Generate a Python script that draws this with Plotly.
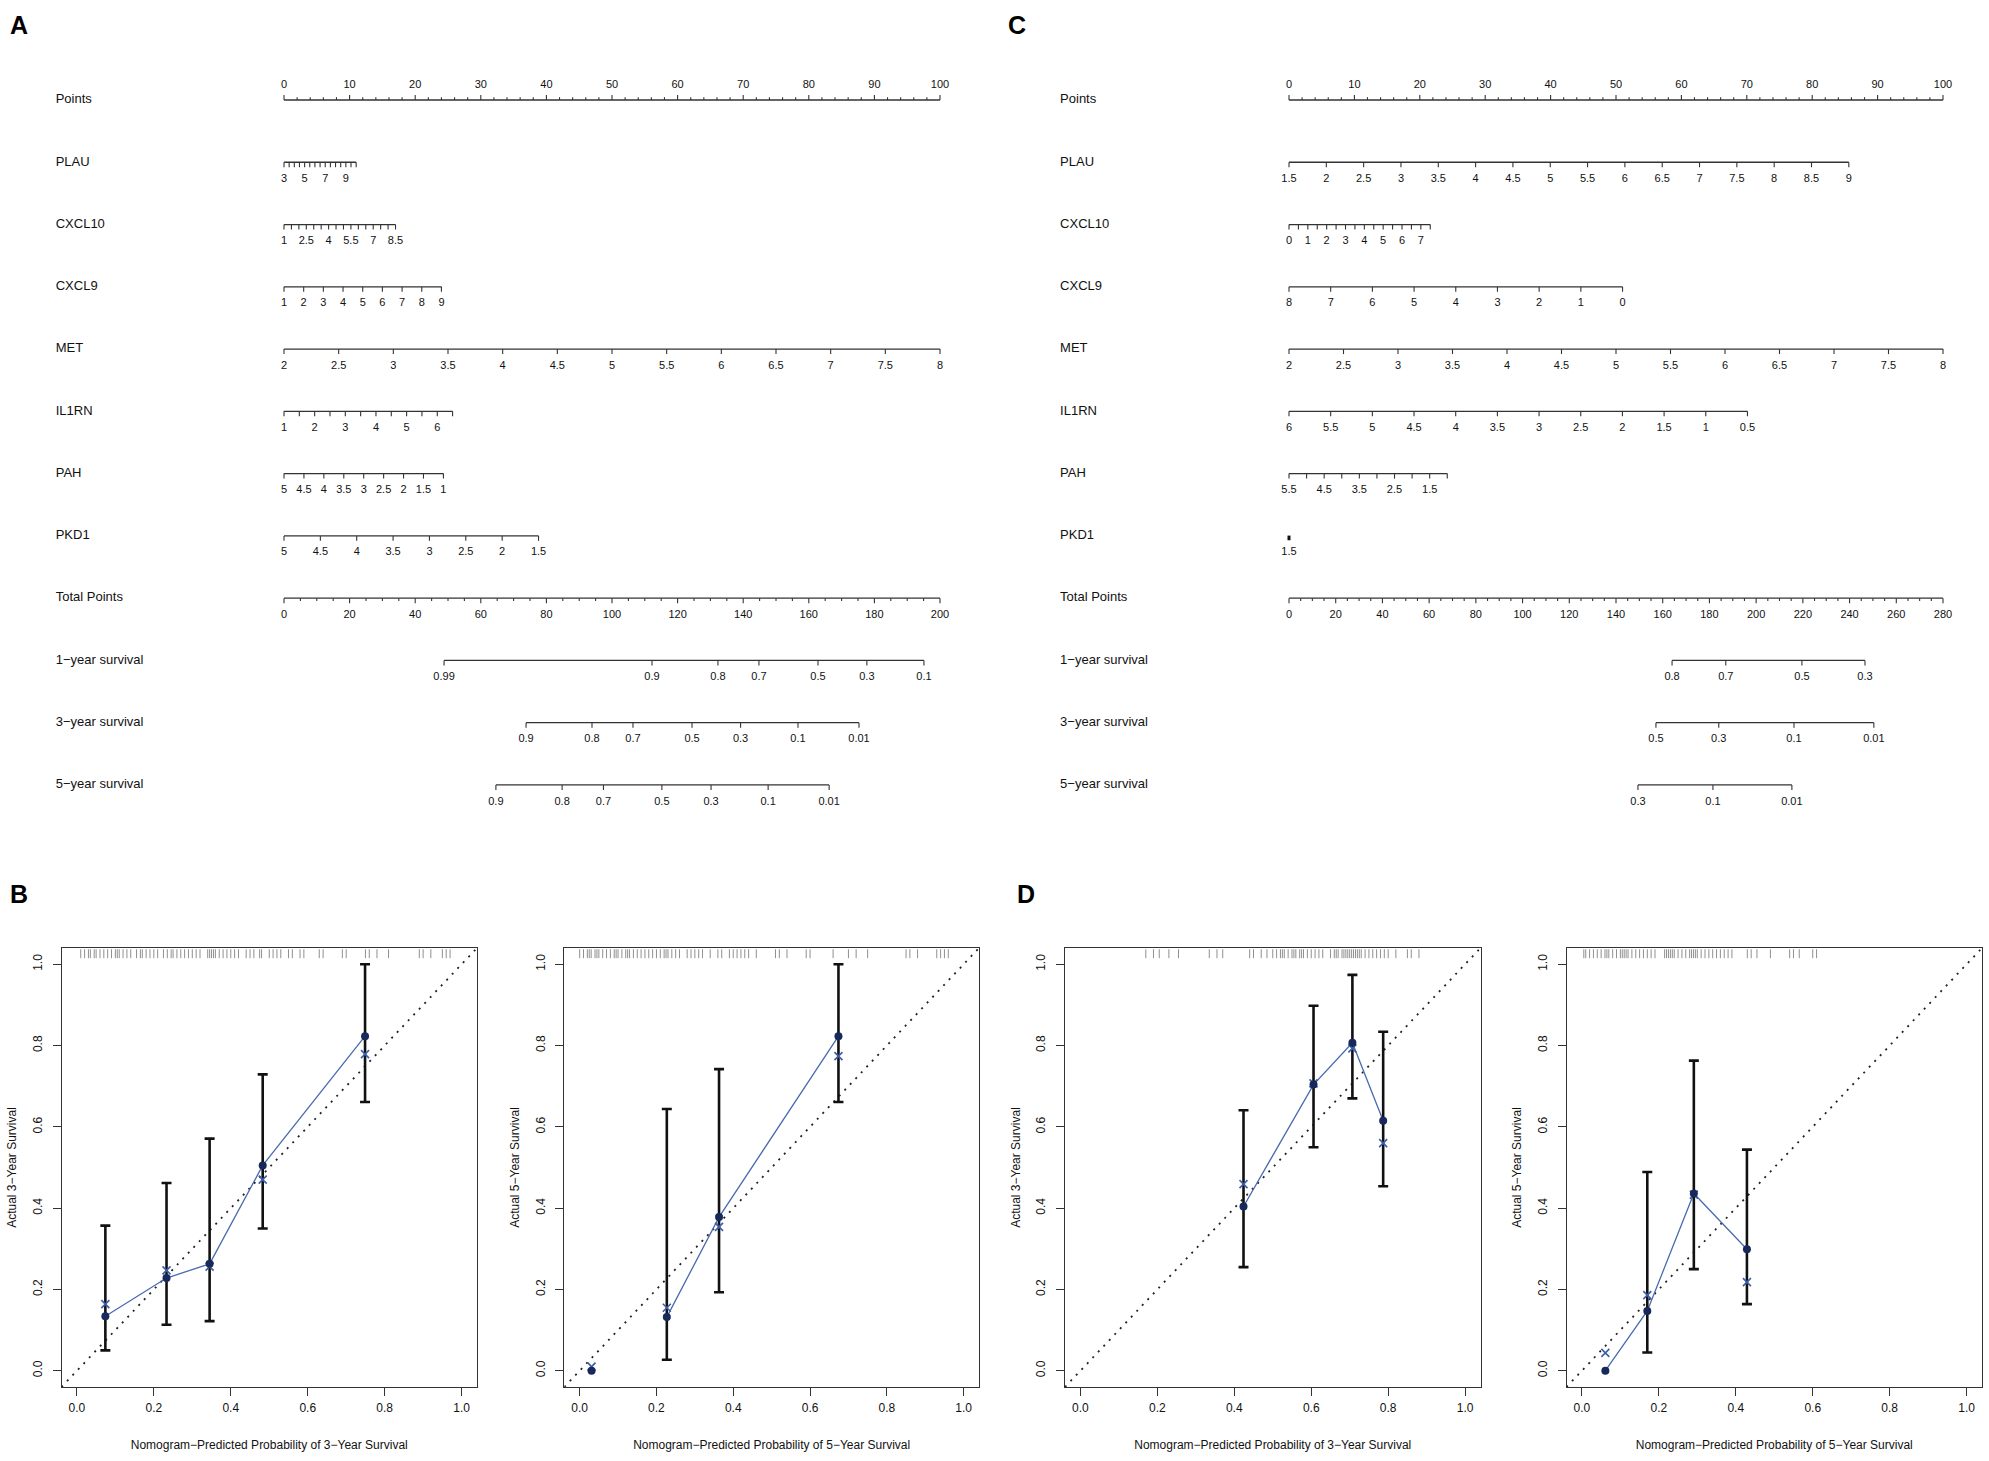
import plotly.graph_objects as go

W, H = 1989, 1461
M = "\u2212"  # R draws hyphens as minus signs

# ---------------- Nomogram A (training cohort) ----------------
a_vars = ["PLAU", "CXCL10", "CXCL9", "MET", "IL1RN", "PAH", "PKD1"]
a_start = [3, 1, 1, 2, 1, 5, 5]            # value at 0 points
a_end = [10, 8.5, 9, 8, 6.5, 1, 1.5]       # value at right end of the scale
a_end_pts = [11.0, 17.0, 24.0, 100.0, 25.7, 24.3, 38.8]
a_step = [0.5, 0.5, 1, 0.5, 0.5, 0.5, 0.5]
a_labels = [
    [3, 5, 7, 9],
    [1, 2.5, 4, 5.5, 7, 8.5],
    [1, 2, 3, 4, 5, 6, 7, 8, 9],
    [2, 2.5, 3, 3.5, 4, 4.5, 5, 5.5, 6, 6.5, 7, 7.5, 8],
    [1, 2, 3, 4, 5, 6],
    [5, 4.5, 4, 3.5, 3, 2.5, 2, 1.5, 1],
    [5, 4.5, 4, 3.5, 3, 2.5, 2, 1.5],
]
a_total_max = 200
a_surv_vals = [
    [0.99, 0.9, 0.8, 0.7, 0.5, 0.3, 0.1],
    [0.9, 0.8, 0.7, 0.5, 0.3, 0.1, 0.01],
    [0.9, 0.8, 0.7, 0.5, 0.3, 0.1, 0.01],
]
a_surv_total = [
    [48.8, 112.2, 132.3, 144.8, 162.8, 177.7, 195.1],
    [73.8, 93.9, 106.4, 124.4, 139.2, 156.7, 175.3],
    [64.6, 84.8, 97.4, 115.2, 130.2, 147.6, 166.2],
]

# ---------------- Nomogram C (validation cohort) ----------------
c_vars = ["PLAU", "CXCL10", "CXCL9", "MET", "IL1RN", "PAH", "PKD1"]
c_start = [1.5, 0, 8, 2, 6, 5.5, 1.5]
c_end = [9, 7.5, 0, 8, 0.5, 1, 1.5]
c_end_pts = [85.6, 21.6, 51.0, 100.0, 70.1, 24.2, 0.0]
c_step = [0.5, 0.5, 1, 0.5, 0.5, 0.5, 0.5]
c_labels = [
    [1.5, 2, 2.5, 3, 3.5, 4, 4.5, 5, 5.5, 6, 6.5, 7, 7.5, 8, 8.5, 9],
    [0, 1, 2, 3, 4, 5, 6, 7],
    [8, 7, 6, 5, 4, 3, 2, 1, 0],
    [2, 2.5, 3, 3.5, 4, 4.5, 5, 5.5, 6, 6.5, 7, 7.5, 8],
    [6, 5.5, 5, 4.5, 4, 3.5, 3, 2.5, 2, 1.5, 1, 0.5],
    [5.5, 4.5, 3.5, 2.5, 1.5],
    [1.5],
]
c_total_max = 280
c_surv_vals = [
    [0.8, 0.7, 0.5, 0.3],
    [0.5, 0.3, 0.1, 0.01],
    [0.3, 0.1, 0.01],
]
c_surv_total = [
    [164.0, 187.0, 219.6, 246.6],
    [157.1, 184.0, 216.2, 250.4],
    [149.4, 181.5, 215.3],
]

surv_names = ["1" + M + "year survival", "3" + M + "year survival", "5" + M + "year survival"]

# ---------------- Calibration curves ----------------
b3_pred = [0.074, 0.233, 0.345, 0.483, 0.749]
b3_obs = [0.134, 0.228, 0.263, 0.505, 0.823]
b3_corr = [0.164, 0.247, 0.256, 0.470, 0.779]
b3_low = [0.050, 0.113, 0.122, 0.350, 0.661]
b3_up = [0.357, 0.462, 0.571, 0.729, 1.000]
b3_rug = [0.01, 0.02, 0.03, 0.035, 0.045, 0.05, 0.06, 0.07, 0.08, 0.09, 0.10, 0.105,
          0.11, 0.12, 0.13, 0.14, 0.155, 0.165, 0.17, 0.18, 0.19, 0.2, 0.21, 0.225,
          0.235, 0.245, 0.25, 0.26, 0.27, 0.28, 0.29, 0.3, 0.31, 0.32, 0.34, 0.345,
          0.35, 0.355, 0.36, 0.37, 0.38, 0.39, 0.4, 0.41, 0.42, 0.44, 0.45, 0.46,
          0.475, 0.48, 0.5, 0.51, 0.52, 0.53, 0.55, 0.56, 0.58, 0.59, 0.63, 0.64,
          0.69, 0.70, 0.75, 0.76, 0.78, 0.81, 0.89, 0.9, 0.92, 0.95, 0.96, 0.97]

b5_pred = [0.031, 0.227, 0.363, 0.674]
b5_obs = [0.0, 0.132, 0.378, 0.823]
b5_corr = [0.010, 0.155, 0.354, 0.774]
b5_low = [None, 0.027, 0.193, 0.661]
b5_up = [None, 0.644, 0.742, 1.000]
b5_rug = [0.0, 0.01, 0.02, 0.025, 0.03, 0.04, 0.045, 0.05, 0.06, 0.07, 0.08, 0.09,
          0.095, 0.1, 0.11, 0.12, 0.125, 0.13, 0.14, 0.15, 0.16, 0.17, 0.18, 0.19,
          0.2, 0.21, 0.22, 0.225, 0.23, 0.24, 0.25, 0.26, 0.28, 0.29, 0.3, 0.31,
          0.32, 0.34, 0.36, 0.37, 0.39, 0.4, 0.41, 0.42, 0.43, 0.44, 0.46, 0.51,
          0.52, 0.54, 0.59, 0.6, 0.66, 0.70, 0.72, 0.75, 0.85, 0.86, 0.88, 0.93,
          0.94, 0.95, 0.96]

d3_pred = [0.424, 0.606, 0.707, 0.787]
d3_obs = [0.404, 0.704, 0.807, 0.615]
d3_corr = [0.459, 0.707, 0.793, 0.560]
d3_low = [0.255, 0.550, 0.670, 0.454]
d3_up = [0.641, 0.898, 0.974, 0.834]
d3_rug = [0.17, 0.19, 0.205, 0.23, 0.255, 0.335, 0.355, 0.37, 0.44, 0.45, 0.47,
          0.485, 0.5, 0.51, 0.52, 0.525, 0.53, 0.54, 0.55, 0.555, 0.56, 0.57, 0.575,
          0.58, 0.59, 0.6, 0.61, 0.62, 0.63, 0.65, 0.66, 0.665, 0.67, 0.68, 0.685,
          0.69, 0.695, 0.70, 0.705, 0.71, 0.715, 0.72, 0.725, 0.73, 0.74, 0.75,
          0.76, 0.77, 0.78, 0.79, 0.80, 0.82, 0.85, 0.86, 0.88]

d5_pred = [0.061, 0.170, 0.291, 0.429]
d5_obs = [0.0, 0.147, 0.436, 0.299]
d5_corr = [0.044, 0.186, 0.433, 0.218]
d5_low = [None, 0.045, 0.250, 0.164]
d5_up = [None, 0.489, 0.763, 0.544]
d5_rug = [0.005, 0.01, 0.02, 0.03, 0.04, 0.05, 0.06, 0.065, 0.07, 0.08, 0.09, 0.1,
          0.105, 0.11, 0.115, 0.12, 0.13, 0.14, 0.15, 0.16, 0.17, 0.18, 0.19, 0.215,
          0.22, 0.225, 0.23, 0.235, 0.24, 0.25, 0.26, 0.27, 0.28, 0.285, 0.29,
          0.295, 0.3, 0.31, 0.32, 0.33, 0.34, 0.35, 0.36, 0.37, 0.38, 0.39, 0.43,
          0.44, 0.455, 0.49, 0.54, 0.55, 0.565, 0.6, 0.61]

calib_ticks = [0, 0.2, 0.4, 0.6, 0.8, 1.0]
calib_ticktext = ["0.0", "0.2", "0.4", "0.6", "0.8", "1.0"]

# ---------------- styling ----------------
FONT = "Liberation Sans, Arial, Helvetica, sans-serif"
INK = "#333333"
ROW0, ROWH = 100.0, 62.27      # pixel y of first nomogram row, row spacing
TICK, MINOR = 0.08, 0.045      # tick lengths in row units
LAB_DN, LAB_UP = 0.27, 0.24
AX_RANGE = [-0.04, 1.04]
RUG_LO, RUG_HI = 1.015, 1.037


def ticks_between(v0, v1, step):
    n = int(round(abs(v1 - v0) / step))
    sgn = 1 if v1 >= v0 else -1
    return [v0 + sgn * step * k for k in range(n + 1)]


def to_pts(v, v0, v1, p1):
    if v1 == v0:
        return 0.0
    return (v - v0) / (v1 - v0) * p1


def seg(xs, ys, x0, x1, y0, y1):
    xs += [x0, x1, None]
    ys += [y0, y1, None]


def nomogram(xa, label_x, vars_, v_start, v_end, v_end_pts, v_step, v_labels,
             total_max, s_vals, s_total):
    rows = ["Points"] + vars_ + ["Total Points"] + surv_names
    lx, ly, tx, ty, bx, by = [], [], [], [], [], []
    kx, ky, kt = [], [], []

    seg(lx, ly, 0, 100, 0, 0)
    for p in range(0, 101, 2):
        seg(tx, ty, p, p, 0, -(TICK if p % 10 == 0 else MINOR))
    for p in range(0, 101, 10):
        kx.append(p); ky.append(-LAB_UP); kt.append(str(p))

    for j in range(len(vars_)):
        row = j + 1
        v0, v1, p1 = v_start[j], v_end[j], v_end_pts[j]
        if p1 == 0:
            seg(bx, by, 0, 0, row - 0.005, row + 0.07)
        else:
            seg(lx, ly, 0, p1, row, row)
            for v in ticks_between(v0, v1, v_step[j]):
                xp = to_pts(v, v0, v1, p1)
                seg(tx, ty, xp, xp, row, row + TICK)
        for v in v_labels[j]:
            kx.append(to_pts(v, v0, v1, p1)); ky.append(row + LAB_DN); kt.append(f"{v:g}")

    row = len(vars_) + 1
    sc = 100.0 / total_max
    seg(lx, ly, 0, 100, row, row)
    for t in range(0, total_max + 1, 5):
        seg(tx, ty, t * sc, t * sc, row, row + (TICK if t % 20 == 0 else MINOR))
    for t in range(0, total_max + 1, 20):
        kx.append(t * sc); ky.append(row + LAB_DN); kt.append(str(t))

    for s in range(len(s_vals)):
        row = len(vars_) + 2 + s
        xs = [t * sc for t in s_total[s]]
        seg(lx, ly, min(xs), max(xs), row, row)
        for xp, v in zip(xs, s_vals[s]):
            seg(tx, ty, xp, xp, row, row + TICK)
            kx.append(xp); ky.append(row + LAB_DN); kt.append(f"{v:g}")

    common = dict(xaxis=xa, yaxis="y", hoverinfo="skip", showlegend=False)
    return [
        go.Scatter(x=lx, y=ly, mode="lines", line=dict(color=INK, width=1.3), **common),
        go.Scatter(x=tx, y=ty, mode="lines", line=dict(color=INK, width=1.1), **common),
        go.Scatter(x=bx, y=by, mode="lines", line=dict(color="#111", width=3), **common),
        go.Scatter(x=kx, y=ky, mode="text", text=kt, textposition="middle center",
                   textfont=dict(family=FONT, size=11, color="#111"), **common),
        go.Scatter(x=[label_x] * len(rows), y=list(range(len(rows))), mode="text",
                   text=rows, textposition="middle right",
                   textfont=dict(family=FONT, size=13, color="#111"), **common),
    ]


def calibration(k, pred, obs, corr, low, up, rug, line_from):
    common = dict(xaxis=f"x{k}", yaxis=f"y{k}", hoverinfo="skip", showlegend=False)
    rx, ry = [], []
    for r in rug:
        seg(rx, ry, r, r, RUG_LO, RUG_HI)
    idx = [i for i in range(len(pred)) if low[i] is not None]
    return [
        go.Scatter(x=rx, y=ry, mode="lines", line=dict(color="rgba(70,70,70,0.6)", width=1), **common),
        go.Scatter(x=AX_RANGE, y=AX_RANGE, mode="lines",
                   line=dict(color="#222", width=1.8, dash="2px,6px"), **common),
        go.Scatter(x=pred[line_from:], y=obs[line_from:], mode="lines",
                   line=dict(color="#4A6BAE", width=1.3), **common),
        go.Scatter(x=[pred[i] for i in idx], y=[obs[i] for i in idx], mode="markers",
                   marker=dict(size=1, opacity=0),
                   error_y=dict(type="data", symmetric=False,
                                array=[up[i] - obs[i] for i in idx],
                                arrayminus=[obs[i] - low[i] for i in idx],
                                color="#111", thickness=2.6, width=5), **common),
        go.Scatter(x=pred, y=corr, mode="markers",
                   marker=dict(symbol="x-thin", size=8, line=dict(color="#3D5DA8", width=1.6)), **common),
        go.Scatter(x=pred, y=obs, mode="markers",
                   marker=dict(symbol="circle", size=8, color="#17295A"), **common),
    ]


fig = go.Figure()
for t in nomogram("x", -34.8, a_vars, a_start, a_end, a_end_pts, a_step, a_labels,
                  a_total_max, a_surv_vals, a_surv_total):
    fig.add_trace(t)
for t in nomogram("x2", -35.0, c_vars, c_start, c_end, c_end_pts, c_step, c_labels,
                  c_total_max, c_surv_vals, c_surv_total):
    fig.add_trace(t)

panels = [
    (3, b3_pred, b3_obs, b3_corr, b3_low, b3_up, b3_rug, 0, "3"),
    (4, b5_pred, b5_obs, b5_corr, b5_low, b5_up, b5_rug, 1, "5"),
    (5, d3_pred, d3_obs, d3_corr, d3_low, d3_up, d3_rug, 0, "3"),
    (6, d5_pred, d5_obs, d5_corr, d5_low, d5_up, d5_rug, 0, "5"),
]
for k, p, o, c, lo, up, rug, lf, yr in panels:
    for t in calibration(k, p, o, c, lo, up, rug, lf):
        fig.add_trace(t)

layout = dict(
    width=W, height=H, margin=dict(l=0, r=0, t=0, b=0, pad=0),
    paper_bgcolor="white", plot_bgcolor="white", showlegend=False,
    font=dict(family=FONT, color="#111"),
    xaxis=dict(domain=[0, 0.5], range=[-284 / 6.56, (994.5 - 284) / 6.56],
               visible=False, anchor="y"),
    xaxis2=dict(domain=[0.5, 1], range=[(994.5 - 1289) / 6.54, (W - 1289) / 6.54],
                visible=False, anchor="y"),
    yaxis=dict(domain=[0, 1], range=[(H - ROW0) / ROWH, -ROW0 / ROWH],
               visible=False, anchor="x"),
)

boxes = [(61.5, 477.0), (564.3, 979.0), (1065.0, 1480.5), (1566.5, 1982.0)]
box_top, box_bot = 948.0, 1387.0
axis_font = dict(family=FONT, size=12, color="#111")
for (k, *_rest), (x0, x1) in zip(panels, boxes):
    yr = _rest[-1]
    common = dict(range=AX_RANGE, tickvals=calib_ticks, ticktext=calib_ticktext,
                  ticks="outside", ticklen=8, tickwidth=1, tickcolor=INK,
                  showline=True, mirror=True, linecolor=INK, linewidth=1,
                  showgrid=False, zeroline=False, tickfont=axis_font)
    layout[f"xaxis{k}"] = dict(domain=[x0 / W, x1 / W], anchor=f"y{k}",
                               ticklabelstandoff=2,
                               title=dict(text=f"Nomogram{M}Predicted Probability of {yr}{M}Year Survival",
                                          font=axis_font, standoff=26),
                               **common)
    layout[f"yaxis{k}"] = dict(domain=[1 - box_bot / H, 1 - box_top / H], anchor=f"x{k}",
                               tickangle=-90, ticklabelstandoff=6,
                               title=dict(text=f"Actual {yr}{M}Year Survival",
                                          font=axis_font, standoff=11),
                               **common)

fig.update_layout(**layout)

for letter, px, py in [("A", 19, 25), ("C", 1017, 25), ("B", 19, 894), ("D", 1026, 894)]:
    fig.add_annotation(text=f"<b>{letter}</b>", x=px / W, y=1 - py / H, xref="paper", yref="paper",
                       xanchor="center", yanchor="middle", showarrow=False,
                       font=dict(family=FONT, size=25, color="#000"))

fig.write_html("out.html", config={"displayModeBar": False},
               post_script="document.body.style.margin='0';")
